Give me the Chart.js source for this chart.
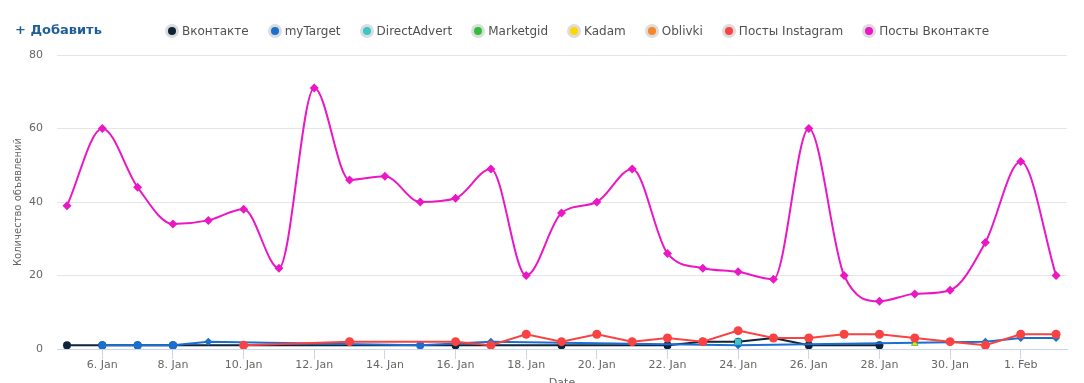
<!DOCTYPE html>
<html>
<head>
<meta charset="utf-8">
<script src="https://cdn.jsdelivr.net/npm/chart.js@4.4.1/dist/chart.umd.min.js"></script>
<style>
  html,body{margin:0;padding:0;background:#fff;overflow:hidden;width:1084px;height:383px;}
  #wrap{position:relative;width:1084px;height:400px;}
  #c{position:absolute;left:0;top:0;}
  #add{position:absolute;left:15px;top:21px;font:bold 13px "DejaVu Sans",sans-serif;color:#1f5f96;line-height:18px;}
  #legend{position:absolute;left:165px;top:22px;display:flex;align-items:center;height:18px;font:12px "DejaVu Sans",sans-serif;color:#505050;white-space:nowrap;}
  .item{display:flex;align-items:center;margin-right:19px;}
  .ring{width:14px;height:14px;border-radius:50%;background:#dcdcdc;display:flex;align-items:center;justify-content:center;margin-right:3px;}
  .dot{width:8px;height:8px;border-radius:50%;}
</style>
</head>
<body>
<div id="wrap">
  <canvas id="c" width="1084" height="400"></canvas>
  <div id="add">+ Добавить</div>
  <div id="legend"></div>
</div>
<script>
// ---- data ----
const dates = ['5. Jan','6. Jan','7. Jan','8. Jan','9. Jan','10. Jan','11. Jan','12. Jan','13. Jan','14. Jan',
  '15. Jan','16. Jan','17. Jan','18. Jan','19. Jan','20. Jan','21. Jan','22. Jan','23. Jan','24. Jan',
  '25. Jan','26. Jan','27. Jan','28. Jan','29. Jan','30. Jan','31. Jan','1. Feb','2. Feb'];
const tickLabels = ['6. Jan','8. Jan','10. Jan','12. Jan','14. Jan','16. Jan','18. Jan','20. Jan','22. Jan','24. Jan','26. Jan','28. Jan','30. Jan','1. Feb'];
const yTicks = [0,20,40,60,80];
const seriesNames = ['Вконтакте','myTarget','DirectAdvert','Marketgid','Kadam','Oblivki','Посты Instagram','Посты Вконтакте'];
const _ = null;
const vkontakte     = [1,1,1,1,_,_,_,_,_,_, _,1,_,_,1,_,_,1,2,2, 3,1,_,1,_,_,_,_,_];
const myTarget      = [_,1,1,1,2,_,_,_,_,_, 1,_,2,_,_,_,_,_,_,1, _,_,_,_,_,_,2,3,3];
const directAdvert  = [_,_,_,_,_,_,_,_,_,_, _,_,_,_,_,_,_,_,_,2, _,_,_,_,_,_,_,_,_];
const marketgid     = [_,_,_,_,_,_,_,_,_,_, _,_,_,_,_,_,_,_,_,_, _,_,_,_,1.5,_,_,_,_];
const kadam         = [_,_,_,_,_,_,_,_,_,_, _,_,_,_,_,_,_,_,_,_, _,_,_,_,1.5,_,_,_,_];
const oblivki       = [_,_,_,_,_,_,_,_,_,_, _,_,_,_,_,_,_,_,_,_, _,_,_,_,_,_,_,_,_];
const postsInstagram= [_,_,_,_,_,1,_,_,2,_, _,2,1,4,2,4,2,3,2,5, 3,3,4,4,3,2,1,4,4];
const postsVkontakte= [39,60,44,34,35,38,22,71,46,47, 40,41,49,20,37,40,49,26,22,21, 19,60,20,13,15,16,29,51,20];

// ---- styles ----
const colors = ['#0d233a','#1a6fcf','#38c6c8','#2fbf3a','#ffd700','#f7852a','#f94343','#ea17c4'];
const allSeries = [vkontakte,myTarget,directAdvert,marketgid,kadam,oblivki,postsInstagram,postsVkontakte];
const symbols = ['circle','rectRot','rect','triangle','triangle','circle','circle','rectRot'];
const radii = [4,4,4.5,4.5,3,4,4.5,4.5];
const drawOrder = [7,6,5,4,3,2,1,0];

function toPoints(arr){
  return arr.map((v,i)=>({x:i,y:v})).filter(p=>p.y!==null);
}

const datasets = allSeries.map((arr,i)=>({
  label: seriesNames[i],
  data: toPoints(arr),
  borderColor: colors[i],
  backgroundColor: colors[i],
  pointBackgroundColor: colors[i],
  pointBorderColor: colors[i],
  pointBorderWidth: 0,
  borderWidth: 2,
  pointStyle: i===1 ? (ctx => { const x = ctx.raw && ctx.raw.x; return (x<=3 || x===10) ? 'circle' : 'rectRot'; }) : symbols[i],
  pointRadius: radii[i],
  pointHoverRadius: radii[i],
  tension: i===7 ? 0.4 : 0,
  cubicInterpolationMode: i===7 ? 'monotone' : 'default',
  order: drawOrder[i],
  fill: false
}));

// legend (HTML)
const leg = document.getElementById('legend');
seriesNames.forEach((n,i)=>{
  const it = document.createElement('div'); it.className='item';
  const r = document.createElement('div'); r.className='ring';
  const d = document.createElement('div'); d.className='dot'; d.style.background=colors[i];
  r.appendChild(d); it.appendChild(r);
  const t = document.createElement('span'); t.textContent=n; it.appendChild(t);
  leg.appendChild(it);
});

const tickIdx = tickLabels.map(l=>dates.indexOf(l));

new Chart(document.getElementById('c'), {
  type: 'line',
  data: { datasets },
  options: {
    responsive: false,
    animation: false,
    devicePixelRatio: 1,
    layout: { padding: { top: 55, right: 17, bottom: 0, left: 0 } },
    plugins: { legend: { display: false }, tooltip: { enabled: false } },
    scales: {
      x: {
        type: 'linear',
        min: -0.283,
        max: 28.31,
        afterFit: s => { s.height = 51; },
        afterBuildTicks: s => { s.ticks = tickIdx.map(v=>({value:v})); },
        ticks: {
          autoSkip: false, maxRotation: 0, padding: 0,
          color: '#666', font: { family: 'DejaVu Sans', size: 11 },
          callback: v => dates[v]
        },
        grid: { display: true, drawOnChartArea: false, drawTicks: true, tickLength: 10, color: '#ccd6eb', lineWidth: 1 },
        border: { display: true, color: '#ccd6eb', width: 1 },
        title: { display: true, text: 'Date', color: '#666', font: { family: 'DejaVu Sans', size: 11 }, padding: { top: 0, bottom: 10 } }
      },
      y: {
        min: 0, max: 80,
        afterFit: s => { s.width = 57; },
        afterBuildTicks: s => { s.ticks = yTicks.map(v=>({value:v})); },
        ticks: { padding: 14, color: '#666', font: { family: 'DejaVu Sans', size: 11 } },
        grid: { color: '#e6e6e6', drawTicks: false, lineWidth: 1 },
        border: { display: false },
        title: { display: true, text: 'Количество объявлений', color: '#666', font: { family: 'DejaVu Sans', size: 10 }, padding: { top: 12, bottom: 0 } }
      }
    }
  }
});
</script>
</body>
</html>
